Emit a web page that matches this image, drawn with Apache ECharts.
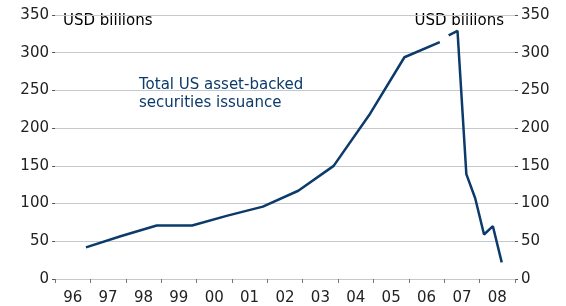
<!DOCTYPE html>
<html>
<head>
<meta charset="utf-8">
<script src="https://cdn.jsdelivr.net/npm/echarts@6/dist/echarts.min.js"></script>
<style>
  html, body { margin: 0; padding: 0; background: #fff; }
  #main { width: 566px; height: 306px; }
</style>
</head>
<body>
<div id="main"></div>
<script>
// x-axis labels (one band per year)
var yearLabels = ['96', '97', '98', '99', '00', '01', '02', '03', '04', '05', '06', '07', '08'];

// annual issuance, USD bn (plotted at the Q4 position of each year)
var annualYears = [1996, 1997, 1998, 1999, 2000, 2001, 2002, 2003, 2004, 2005, 2006];
var annualValues = [42, 57, 71, 71, 84, 96, 117, 150, 217, 294, 314];

// quarterly issuance (annualised), USD bn
var quarterYears = [2007, 2007, 2007, 2007, 2008, 2008, 2008];
var quarterNums = [1, 2, 3, 4, 1, 2, 3];
var quarterValues = [323, 329, 139, 107, 59, 70, 22];

var yTicks = [0, 50, 100, 150, 200, 250, 300, 350];

var navy = '#0b3a6b';
var grey = '#c3c9ce';
var font = 'DejaVu Sans';

// position of a quarter inside its year band
function qPos(y, q) { return y + (q - 0.5) / 4; }

var annualData = annualYears.map(function (y, i) { return [qPos(y, 4), annualValues[i]]; });
var quarterData = quarterYears.map(function (y, i) { return [qPos(y, quarterNums[i]), quarterValues[i]]; });

var chart = echarts.init(document.getElementById('main'), null, { renderer: 'canvas' });

var yAxisCommon = {
  type: 'value',
  min: yTicks[0],
  max: yTicks[yTicks.length - 1],
  interval: 50,
  axisLine: { show: false },
  axisTick: { show: true, length: 3, lineStyle: { color: '#555', width: 1 } },
  axisLabel: { color: '#222', fontFamily: font, fontSize: 15, margin: 6 },
  splitLine: { show: true, lineStyle: { color: grey, width: 1 } }
};

chart.setOption({
  animation: false,
  backgroundColor: '#fff',
  grid: { left: 55, right: 51, top: 15, bottom: 27, containLabel: false },
  xAxis: [
    {
      type: 'value',
      min: 1996,
      max: 2009,
      interval: 1,
      position: 'bottom',
      axisLine: { show: true, lineStyle: { color: grey, width: 1 } },
      axisTick: { show: true, length: 4, lineStyle: { color: '#777' } },
      axisLabel: { show: false },
      splitLine: { show: false }
    },
    {
      type: 'category',
      data: yearLabels,
      boundaryGap: true,
      position: 'bottom',
      axisLine: { show: false },
      axisTick: { show: false },
      axisLabel: { color: '#222', fontFamily: font, fontSize: 15, margin: 12 },
      splitLine: { show: false }
    }
  ],
  yAxis: [
    Object.assign({ position: 'left' }, yAxisCommon),
    Object.assign({ position: 'right' }, yAxisCommon)
  ],
  graphic: [
    { type: 'text', left: 63, top: 14, style: { text: 'USD billions', fill: '#000', font: '15px "' + font + '"' } },
    { type: 'text', right: 62, top: 14, style: { text: 'USD billions', fill: '#000', font: '15px "' + font + '"' } },
    { type: 'text', left: 139, top: 76, style: { text: 'Total US asset-backed\nsecurities issuance', fill: navy, font: '15px "' + font + '"', lineHeight: 18 } }
  ],
  series: [
    {
      type: 'line',
      xAxisIndex: 0,
      yAxisIndex: 0,
      data: annualData,
      showSymbol: false,
      lineStyle: { color: navy, width: 2.5 }
    },
    {
      type: 'line',
      xAxisIndex: 0,
      yAxisIndex: 0,
      data: quarterData,
      showSymbol: false,
      lineStyle: { color: navy, width: 2.5 }
    }
  ]
});
</script>
</body>
</html>
